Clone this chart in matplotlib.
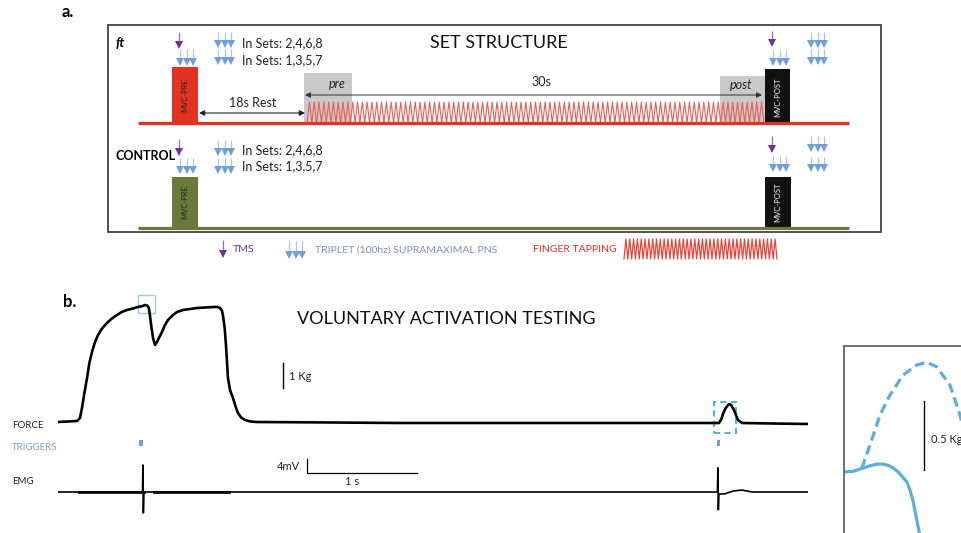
import matplotlib
matplotlib.use('Agg')
import matplotlib.pyplot as plt
from matplotlib.patches import Rectangle
import numpy as np

plt.rcParams['font.family'] = ['Lato', 'DejaVu Sans']

# ---- panel b: force trace (time in s, force in kg) ----
force_t = [0, 0.173, 0.2, 0.218, 0.24, 0.264, 0.285, 0.309, 0.335, 0.364, 0.4, 0.445, 0.49, 0.536,
           0.58, 0.627, 0.68, 0.727, 0.77, 0.791, 0.81, 0.825, 0.836, 0.85, 0.864, 0.882, 0.9,
           0.92, 0.945, 0.97, 1.0, 1.04, 1.082, 1.136, 1.2, 1.264, 1.34, 1.409, 1.45, 1.473,
           1.49, 1.5, 1.515, 1.527, 1.537, 1.545, 1.565, 1.591, 1.615, 1.636, 1.665, 1.7, 1.75,
           1.809, 2.5, 3.109, 4.5, 5.945, 6.009, 6.03, 6.045, 6.07, 6.1, 6.12, 6.145, 6.165,
           6.182, 6.218, 6.5, 6.818]
force_kg = [0.04, 0.08, 0.2, 0.6, 1.2, 1.8, 2.4, 2.84, 3.22, 3.52, 3.78, 4.0, 4.18, 4.32,
            4.44, 4.52, 4.58, 4.64, 4.68, 4.72, 4.7, 4.62, 4.3, 3.8, 3.4, 3.12, 3.24,
            3.42, 3.64, 3.9, 4.12, 4.3, 4.44, 4.52, 4.56, 4.6, 4.62, 4.64, 4.64, 4.6,
            4.5, 4.3, 3.8, 3.12, 2.4, 1.8, 1.3, 1.0, 0.65, 0.4, 0.22, 0.12, 0.06,
            0.04, 0.02, 0.0, 0.0, 0.0, 0.0, 0.15, 0.36, 0.6, 0.76, 0.72, 0.52, 0.3,
            0.12, 0.0, -0.02, -0.04]
trigger_t = [0.755, 6.005]

# EMG (time in s, mV)
emg_t = [0, 0.18, 0.768, 0.772, 0.776, 0.781, 0.79, 1.56, 5.995, 5.999, 6.003, 6.008,
         6.064, 6.14, 6.218, 6.31, 6.818]
emg_mv = [0, 0, 0, 7.7, -6.0, 0, 0, 0, 0, 6.9, -5.1, -0.6,
          -0.5, 0.3, 0.55, 0, 0]
burst_start = [0.18, 0.86]
burst_end = [0.79, 1.56]

# inset: zoom of the force around the stimulus (time in ms, force in kg)
mvc_t = [-0.5, 4.6, 8.9, 13, 16.4, 19, 22.2, 25, 27.1, 29.5, 31.4, 33, 34.6, 36, 37.6, 39]
mvc_kg = [0, 0.005, 0.025, 0.045, 0.057, 0.058, 0.048, 0.025, 0.0, -0.04, -0.072, -0.13,
          -0.215, -0.32, -0.435, -0.55]
twitch_t = [8.9, 13, 18, 23, 29.6, 36.3, 41.3, 46.3, 53, 58, 59.5]
twitch_kg = [0.027, 0.196, 0.413, 0.558, 0.703, 0.775, 0.795, 0.763, 0.63, 0.413, 0.32]

RED = '#e3321f'
GREEN = '#6b7a3c'
PURPLE = '#7030a0'
BLUE = '#6fa0d8'
PALE = '#a9c8ea'
LIGHTBLUE = '#5aaee0'

fig = plt.figure(figsize=(9.61, 5.33), dpi=100)

# schematic axes in pixel units
ax = fig.add_axes([0, 0, 1, 1])
ax.set_xlim(0, 961)
ax.set_ylim(533, 0)
ax.axis('off')


def tms(x, y0, y1):
    ax.plot([x, x], [y0, y1 - 4], color='#9b6cc4', lw=0.9, solid_capstyle='butt')
    ax.plot(x, y1 - 3, marker='v', ms=5.5, color=PURPLE, mew=0)


def triplet(x0, y0, y1, dx=6.5):
    for k in range(3):
        x = x0 + k * dx
        ax.plot([x, x], [y0, y1 - 4], color=PALE, lw=0.9, solid_capstyle='butt')
        ax.plot(x, y1 - 3, marker='v', ms=5.5, color=BLUE, mew=0)


ax.text(62, 12, 'a.', fontsize=12, fontweight='bold', va='center')
ax.add_patch(Rectangle((108, 25), 773, 207, fill=False, ec='#444444', lw=1.3))
ax.text(116, 43, 'ft', fontsize=9.5, fontweight='bold', style='italic', va='center')
ax.text(499, 43, 'SET STRUCTURE', fontsize=13, ha='center', va='center', color='#111111')

# ft row
ax.add_patch(Rectangle((304, 73), 48, 50, color='#c9c9c9', lw=0))
ax.add_patch(Rectangle((720, 76), 45, 47, color='#c9c9c9', lw=0))
n_taps = 95
tx = np.linspace(307, 764, 2 * n_taps + 1)
ty = np.where(np.arange(tx.size) % 2 == 0, 123, 102)
ax.plot(tx, ty, color='#ec5f52', lw=0.8)
ax.plot([138, 849], [123, 123], color=RED, lw=2.3, solid_capstyle='butt')
ax.add_patch(Rectangle((172, 67), 26, 56, color=RED, lw=0))
ax.text(185, 95, 'MVC-PRE', rotation=90, fontsize=5.5, ha='center', va='center', color='#222222')
ax.add_patch(Rectangle((765, 69), 25, 56, color='#111111', lw=0))
ax.text(777.5, 97, 'MVC-POST', rotation=90, fontsize=5.5, ha='center', va='center', color='white')
ax.text(337, 84, 'pre', fontsize=9, style='italic', ha='center', va='center', color='#222222')
ax.text(741, 85, 'post', fontsize=9, style='italic', ha='center', va='center', color='#222222')
ax.annotate('', xy=(199, 113), xytext=(305, 113),
            arrowprops=dict(arrowstyle='<|-|>', color='#222222', lw=0.8, mutation_scale=8,
                            shrinkA=0, shrinkB=0))
ax.text(253, 103, '18s Rest', fontsize=9, ha='center', va='center', color='#222222')
ax.annotate('', xy=(305, 95), xytext=(762, 95),
            arrowprops=dict(arrowstyle='<|-|>', color='#333333', lw=0.7, mutation_scale=8,
                            shrinkA=0, shrinkB=0))
ax.text(541, 82, '30s', fontsize=9, ha='center', va='center', color='#222222')

tms(179, 32, 48)
triplet(180, 49, 65)
triplet(218, 32, 47)
triplet(218, 49, 64)
ax.text(242, 43, 'In Sets: 2,4,6,8', fontsize=9, va='center', color='#222222')
ax.text(242, 60, 'In Sets: 1,3,5,7', fontsize=9, va='center', color='#222222')
tms(772, 31, 46)
triplet(773, 50, 65)
triplet(811, 32, 47)
triplet(811, 49, 64)

# control row
ax.text(116, 156, 'CONTROL', fontsize=9, fontweight='bold', va='center')
ax.plot([138, 849], [228, 228], color=GREEN, lw=2.3, solid_capstyle='butt')
ax.add_patch(Rectangle((172, 177), 26, 51, color=GREEN, lw=0))
ax.text(185, 202, 'MVC-PRE', rotation=90, fontsize=5.5, ha='center', va='center', color='#222222')
ax.add_patch(Rectangle((765, 177), 26, 51, color='#111111', lw=0))
ax.text(778, 202, 'MVC-POST', rotation=90, fontsize=5.5, ha='center', va='center', color='white')
tms(179, 139, 155)
triplet(180, 158, 173)
triplet(218, 140, 155)
triplet(218, 158, 173)
ax.text(242, 150, 'In Sets: 2,4,6,8', fontsize=9, va='center', color='#222222')
ax.text(242, 166, 'In Sets: 1,3,5,7', fontsize=9, va='center', color='#222222')
tms(772, 136, 152)
triplet(773, 156, 171)
triplet(811, 136, 151)
triplet(811, 157, 171)

# legend row
tms(223, 240, 257)
ax.text(233, 250, 'TMS', fontsize=7.5, va='center', color=PURPLE)
triplet(289, 241, 258)
ax.text(315, 250, 'TRIPLET (100hz) SUPRAMAXIMAL PNS', fontsize=7.5, va='center', color='#7b8fc7')
ax.text(533, 250, 'FINGER TAPPING', fontsize=7.5, va='center', color=RED)
n_leg = 40
lx = np.linspace(624, 777, 2 * n_leg + 1)
ly = np.where(np.arange(lx.size) % 2 == 0, 259, 239)
ax.plot(lx, ly, color='#e8453a', lw=0.9)

# panel b labels
ax.text(63, 302, 'b.', fontsize=12, fontweight='bold', va='center')
ax.text(446, 319, 'VOLUNTARY ACTIVATION TESTING', fontsize=13, ha='center', va='center', color='#111111')
ax.text(12, 425, 'FORCE', fontsize=7, va='center', color='#222222')
ax.text(12, 447, 'TRIGGERS', fontsize=7, va='center', color='#7f9fd0')
ax.text(12, 482, 'EMG', fontsize=7, va='center', color='#222222')

# force axes
axf = fig.add_axes([58 / 961, 1 - 450 / 533, 750 / 961, 160 / 533])
axf.set_xlim(0, 750 / 110)
axf.set_ylim(-1.08, 5.32)
axf.axis('off')
axf.plot(force_t, force_kg, color='black', lw=1.9, solid_joinstyle='round')
axf.bar(trigger_t, 0.24, bottom=-0.92, width=0.03, color=BLUE)
axf.add_patch(Rectangle((0.727, 4.4), 0.155, 0.72, fill=False, ec='#9ccbe8', lw=1))
axf.add_patch(Rectangle((5.964, -0.4), 0.2, 1.24, fill=False, ec=LIGHTBLUE, lw=1.5, ls=(0, (3, 2))))
axf.plot([2.045, 2.045], [1.4, 2.4], color='black', lw=1)
axf.text(2.1, 1.88, '1 Kg', fontsize=8, va='center', color='#222222')

# EMG axes
axe = fig.add_axes([58 / 961, 1 - 520 / 533, 750 / 961, 65 / 533])
axe.set_xlim(0, 750 / 110)
axe.set_ylim(-8, 10.57)
axe.axis('off')
axe.plot(emg_t, emg_mv, color='black', lw=1.2)
for s, e in zip(burst_start, burst_end):
    axe.fill_between([s, e], [-0.3, -0.3], [0.3, 0.3], color='#1a1a1a', lw=0.6)
axe.plot([2.264, 2.264, 3.264], [9.43, 5.43, 5.43], color='black', lw=0.9)
axe.text(2.2, 7.4, '4mV', fontsize=8, ha='right', va='center', color='#222222')
axe.text(2.67, 2.9, '1 s', fontsize=8, ha='center', va='center', color='#222222')

# inset
axi = fig.add_axes([844 / 961, 1 - 700 / 533, 300 / 961, 354 / 533])
axi.set_xlim(0, 150)
axi.set_ylim(-1.652, 0.913)
axi.set_xticks([])
axi.set_yticks([])
for side in ['right', 'bottom']:
    axi.spines[side].set_visible(False)
for side in ['left', 'top']:
    axi.spines[side].set_color('#666666')
    axi.spines[side].set_linewidth(1.3)
axi.plot(mvc_t, mvc_kg, color=LIGHTBLUE, lw=2.3, solid_capstyle='round')
axi.plot(twitch_t, twitch_kg, color=LIGHTBLUE, lw=2.3, ls=(0, (3, 1.6)))
axi.plot([40, 40], [0.015, 0.515], color='black', lw=1)
axi.text(43.5, 0.232, '0.5 Kg', fontsize=8, va='center', color='#222222')

fig.savefig('out.png', dpi=100)
